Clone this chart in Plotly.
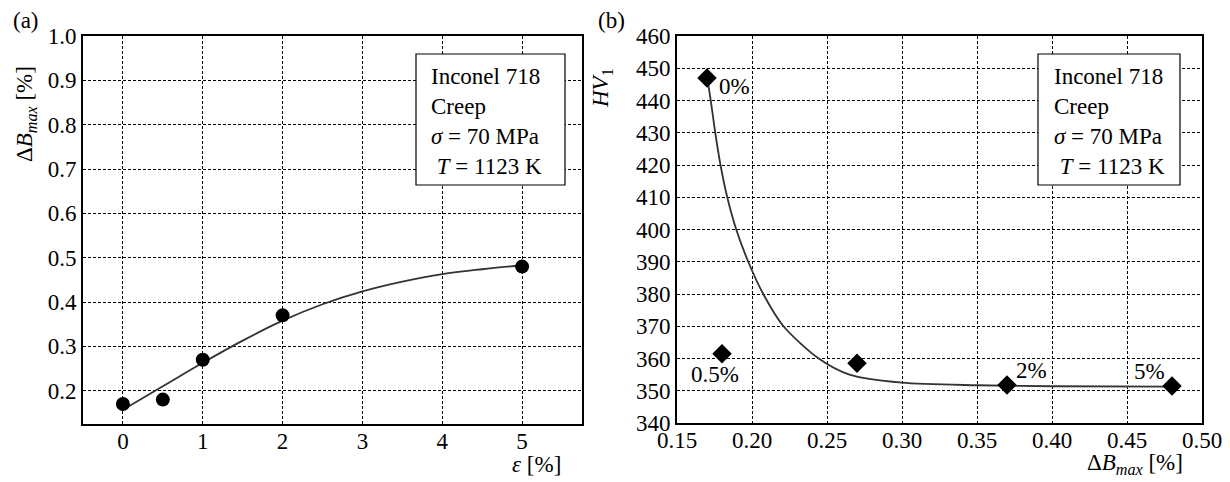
import plotly.graph_objects as go

# Panel (a) data
strain = [0, 0.5, 1, 2, 5]
dbmax = [0.17, 0.18, 0.27, 0.37, 0.48]
fit_a_x = [0, 0.5, 1, 1.5, 2, 2.5, 3, 3.5, 4, 4.5, 5]
fit_a_y = [0.157, 0.21, 0.263, 0.313, 0.358, 0.395, 0.424, 0.446, 0.463, 0.474, 0.483]

# Panel (b) data
dbmax_b = [0.17, 0.18, 0.27, 0.37, 0.48]
hv = [447, 361.5, 358.5, 351.8, 351.5]
point_labels = ["0%", "0.5%", "", "2%", "5%"]
fit_b_x = [0.1705, 0.1725, 0.1755, 0.179, 0.1835, 0.1895, 0.1975, 0.2075, 0.221, 0.2445, 0.265, 0.30, 0.35, 0.40, 0.48]
fit_b_y = [446, 440, 430, 420, 410, 400, 390, 380, 370, 360, 355, 352.5, 351.7, 351.4, 351.3]

box_lines = ["Inconel 718", "Creep", "<i>σ</i> = 70 MPa", " <i>T</i> = 1123 K"]

FONT = "Liberation Serif"
FS = 23
W, H = 1230, 482


def px(x):
    return x / W


def py(y):
    return 1 - y / H


fig = go.Figure()

fig.add_trace(go.Scatter(x=fit_a_x, y=fit_a_y, mode="lines", line=dict(color="#333333", width=1.8, shape="spline"),
                         xaxis="x", yaxis="y", showlegend=False))
fig.add_trace(go.Scatter(x=strain, y=dbmax, mode="markers", marker=dict(symbol="circle", size=14, color="black"),
                         xaxis="x", yaxis="y", showlegend=False))
fig.add_trace(go.Scatter(x=fit_b_x, y=fit_b_y, mode="lines", line=dict(color="#333333", width=1.8, shape="spline", smoothing=0.8),
                         xaxis="x2", yaxis="y2", showlegend=False))
fig.add_trace(go.Scatter(x=dbmax_b, y=hv, mode="markers", marker=dict(symbol="diamond", size=15, color="black"),
                         xaxis="x2", yaxis="y2", showlegend=False))

axis_common = dict(showline=True, linecolor="black", linewidth=2, mirror=True,
                   showgrid=True, gridcolor="black", gridwidth=1, griddash="3px,2px",
                   zeroline=False, ticks="", tickfont=dict(family=FONT, size=FS, color="black"),
                   automargin=False)

fig.update_layout(
    width=W, height=H,
    margin=dict(l=0, r=0, t=0, b=0),
    paper_bgcolor="white", plot_bgcolor="white",
    font=dict(family=FONT, color="black"),
    xaxis=dict(domain=[px(83), px(582)], range=[-0.5, 5.75], tickvals=[0, 1, 2, 3, 4, 5], anchor="y",
               ticklabelstandoff=-5, **axis_common),
    yaxis=dict(domain=[py(424), py(36)], range=[0.125, 1.0], tickvals=[0.2, 0.3, 0.4, 0.5, 0.6, 0.7, 0.8, 0.9, 1.0],
               tickformat=".1f", anchor="x", **axis_common),
    xaxis2=dict(domain=[px(677), px(1202)], range=[0.15, 0.50],
                tickvals=[0.15, 0.20, 0.25, 0.30, 0.35, 0.40, 0.45, 0.50], tickformat=".2f", anchor="y2",
                ticklabelstandoff=-5, **axis_common),
    yaxis2=dict(domain=[py(423), py(36)], range=[340, 460], tickvals=list(range(340, 461, 10)), anchor="x2", **axis_common),
)

ann = []


def paper_text(text, x, y, xanchor="center", angle=0):
    return dict(text=text, x=px(x), y=py(y), xref="paper", yref="paper", xanchor=xanchor, yanchor="middle",
                textangle=angle, showarrow=False, font=dict(family=FONT, size=FS))


# axis titles
ann.append(paper_text("Δ<i>B</i><sub><i>max</i></sub> [%]", 26, 114, angle=-90))
ann.append(paper_text("<i>ε</i> [%]", 563, 464, xanchor="right"))
ann.append(paper_text("<i>HV</i><sub>1</sub>", 602, 88, angle=-90))
ann.append(paper_text("Δ<i>B</i><sub><i>max</i></sub> [%]", 1185, 464, xanchor="right"))
# panel labels
ann.append(paper_text("(a)", 11, 21, xanchor="left"))
ann.append(paper_text("(b)", 596, 21, xanchor="left"))

shapes = []
# info boxes
for x0, x1 in ((416, 565), (1038, 1180)):
    shapes.append(dict(type="rect", xref="paper", yref="paper", x0=px(x0), x1=px(x1), y0=py(185), y1=py(54),
                       line=dict(color="black", width=1.2), fillcolor="white", layer="above"))
for x0 in (429, 1052):
    ann.append(dict(text="<br>".join(box_lines), x=px(x0), y=py(121), xref="paper", yref="paper",
                    xanchor="left", yanchor="middle", align="left", showarrow=False,
                    font=dict(family=FONT, size=FS)))

# point labels in panel b
offsets = [(10, 9, "left"), (-7, 21, "center"), None, (7, -14, "left"), (-5, -14, "right")]
for xv, yv, lab, off in zip(dbmax_b, hv, point_labels, offsets):
    if not lab:
        continue
    dx, dy, xa = off
    ann.append(dict(text=lab, x=xv, y=yv, xref="x2", yref="y2", xanchor=xa, yanchor="middle",
                    xshift=dx, yshift=-dy, showarrow=False, font=dict(family=FONT, size=FS)))

fig.update_layout(annotations=ann, shapes=shapes)
fig.write_html("out.html", config={"displayModeBar": False},
               post_script="document.body.style.margin='0';document.body.style.padding='0';")
